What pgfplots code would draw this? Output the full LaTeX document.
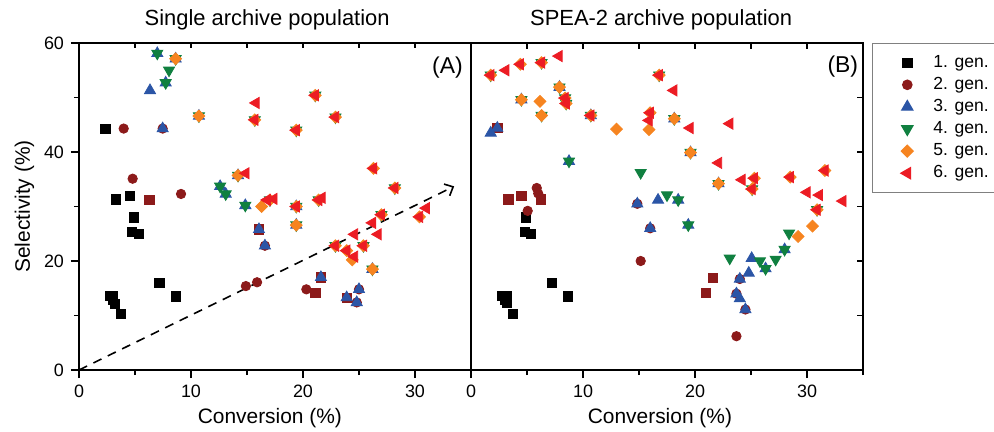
\documentclass[border=0pt]{standalone}
\usepackage{fontspec}
\setmainfont{Liberation Sans}
\usepackage{pgfplots}
\pgfplotsset{compat=1.18}
\usetikzlibrary{arrows.meta}

\definecolor{gdarkred}{RGB}{140,26,26}
\definecolor{gblue}{RGB}{43,85,166}
\definecolor{ggreen}{RGB}{16,128,64}
\definecolor{gorange}{RGB}{246,132,32}
\definecolor{gred}{RGB}{236,28,36}

\newcommand\ftick{\fontsize{9}{10}\selectfont}
\newcommand\flab{\fontsize{10.5}{12}\selectfont}

\pgfplotsset{
  panel/.style={
    scale only axis, width=196bp, height=163.5bp,
    xmin=0, xmax=35, ymin=0, ymax=60,
    axis line style={line width=0.9bp},
    every tick/.style={line width=0.8bp, black},
    tick label style={font=\ftick},
    /pgf/number format/assume math mode=true,
    clip=false,
  },
  limg/.style={legend image code/.code={\path[draw=none,fill=none] (0bp,0bp) (20bp,0bp); \draw[##1] plot coordinates {(14.35bp,0bp)};}},
  g1/.style={only marks, mark=square*, mark size=2.3bp, color=black, limg},
  g1b/.style={only marks, mark=square*, mark size=2.3bp, color=gdarkred, forget plot},
  g2/.style={only marks, mark=*, mark size=2.35bp, color=gdarkred, limg},
  g3/.style={only marks, mark=triangle*, mark size=3.2bp, color=gblue, limg},
  g4/.style={only marks, mark=triangle*, mark size=3.2bp, mark options={rotate=180}, color=ggreen, limg},
  g5/.style={only marks, mark=square*, mark size=2.1bp, mark options={rotate=45}, color=gorange, limg},
  g6/.style={only marks, mark=triangle*, mark size=3.2bp, mark options={rotate=90}, color=gred, limg},
}

\begin{document}
\begin{tikzpicture}
\path[use as bounding box] (-39.5bp,-31bp) rectangle (457.5bp,185bp);

% ---------- (A) single archive population
\begin{axis}[panel, at={(0,0)}, anchor=south west,
  xtick={0,10,20,30}, minor xtick={5,15,25},
  ytick={0,20,40,60}, minor ytick={10,30,50},
  xtick pos=bottom, ytick pos=left, tick align=outside,
  major tick length=4bp, minor tick length=2.5bp]
\addplot[g1] coordinates {(2.35,44.3)(3.3,31.3)(4.55,32.0)(4.91,28.0)(4.7,25.4)(5.36,25.0)
  (7.17,16.0)(8.66,13.5)(2.77,13.6)(3.06,13.6)(3.0,12.8)(3.2,12.2)(3.72,10.35)};
\addplot[g1b] coordinates {(6.28,31.2)(21.1,14.2)(16.07,25.8)(21.6,17.0)(23.9,13.3)};
\addplot[g2] coordinates {(3.99,44.3)(7.47,44.3)(4.79,35.1)(9.11,32.3)(14.9,15.4)(15.9,16.1)
  (20.3,14.8)(16.6,22.8)(25.0,14.8)(24.8,12.4)};
\addplot[g3] coordinates {(6.99,58.1)(8.63,57.1)(7.74,52.7)(6.34,51.3)(10.71,46.6)(7.47,44.3)
  (12.6,33.7)(13.1,32.3)(14.2,35.7)(14.85,30.2)(16.07,25.8)(16.6,22.8)(19.4,26.6)(21.6,17.0)
  (23.9,13.3)(25.0,14.8)(24.8,12.4)(26.2,18.5)(19.4,30.0)};
\addplot[g4] coordinates {(6.99,58.1)(8.63,57.1)(8.04,55.0)(7.74,52.7)(10.71,46.6)(12.6,33.7)
  (13.1,32.3)(14.2,35.7)(14.85,30.2)(19.4,26.6)(26.2,18.5)(15.7,45.9)(21.1,50.4)(22.9,46.4)
  (19.4,44.0)(28.2,33.4)(17.05,31.2)(19.4,30.0)(21.4,31.2)(27.0,28.5)(22.9,22.8)(25.4,22.8)};
\addplot[g5] coordinates {(8.63,57.1)(10.71,46.6)(14.2,35.7)(16.3,30.0)(19.4,26.6)(26.2,18.5)
  (24.4,20.2)(15.7,45.9)(21.1,50.4)(22.9,46.4)(19.4,44.0)(26.3,37.0)(28.2,33.4)(17.05,31.2)
  (19.4,30.0)(21.4,31.2)(27.0,28.5)(30.4,28.1)(22.9,22.8)(23.9,21.9)(25.4,22.8)};
\addplot[g6] coordinates {(15.8,49.0)(15.7,45.9)(21.1,50.4)(22.9,46.4)(19.4,44.0)(26.3,37.0)
  (28.2,33.4)(14.9,36.1)(16.8,31.2)(17.4,31.4)(19.4,30.0)(21.4,31.2)(21.7,31.6)(31.0,29.7)
  (30.4,28.1)(27.0,28.5)(26.2,27.0)(22.9,22.8)(23.9,21.9)(24.6,20.8)(24.6,24.9)(25.4,22.8)(26.7,24.9)};
\draw[black, line width=0.8bp, dash pattern=on 4.5bp off 3.5bp,
  -{Straight Barb[length=3.5bp,width=6.5bp]}] (axis cs:0,0) -- (axis cs:33.5,33.7);
\node[font=\fontsize{11.5}{13}\selectfont] at (axis cs:32.9,55.5) {(A)};
\node[anchor=base, font=\fontsize{11}{13}\selectfont] at (rel axis cs:0.48,1) [yshift=9bp] {Single archive population};
\node[anchor=base, font=\flab] at (rel axis cs:0.487,0) [yshift=-26.5bp] {Conversion (\%)};
\node[anchor=base, font=\flab, xshift=-24.5bp, rotate=90] at (rel axis cs:0,0.5) {Selectivity (\%)};
\end{axis}
\begin{axis}[panel, at={(0,0)}, anchor=south west,
  xtick={5,10,...,30}, ytick=\empty, xticklabels={},
  xtick pos=top, tick align=inside, major tick length=2.5bp]
\end{axis}

% ---------- (B) SPEA-2 archive population
\begin{axis}[panel, at={(196bp,0)}, anchor=south west,
  xtick={0,10,20,30}, minor xtick={5,15,25,35}, ytick=\empty,
  xtick pos=bottom, tick align=outside,
  major tick length=4bp, minor tick length=2.5bp,
  legend style={at={(1.023,1)}, anchor=north west, draw=gray, line width=0.6bp,
    fill=white, inner xsep=3bp, inner ysep=5.5bp,
    font=\fontsize{8.8}{10}\selectfont, row sep=2.95bp,
    nodes={inner sep=0pt, text height=6.3bp, text depth=1.8bp},
    /tikz/every odd column/.append style={column sep=7.4bp}}]
\addplot[g1] coordinates {(4.88,28.0)(4.82,25.4)(5.36,25.0)(7.2,16.0)(8.63,13.5)(2.74,13.6)
  (3.19,13.6)(3.0,12.8)(3.19,12.4)(3.72,10.35)};
\addplot[g1b] coordinates {(3.33,31.3)(4.5,32.0)(6.25,31.3)(21.6,16.9)(21.0,14.2)(2.35,44.4)};
\addplot[g2] coordinates {(5.87,33.4)(6.0,32.4)(5.06,29.2)(15.15,20.0)(23.7,6.2)(14.85,30.5)
  (16.0,26.0)(24.0,16.7)(23.7,14.0)(24.5,11.1)};
\addplot[g3] coordinates {(1.76,43.5)(2.35,44.4)(8.75,38.3)(14.85,30.5)(16.7,31.2)(18.5,31.2)
  (16.0,26.0)(19.4,26.6)(25.06,20.5)(24.8,17.8)(24.0,16.7)(23.7,14.0)(24.0,13.1)(24.5,11.1)
  (28.0,22.1)(26.3,18.6)(4.5,49.6)(7.9,51.9)(10.7,46.7)(18.15,46.1)(19.6,39.9)(22.1,34.2)};
\addplot[g4] coordinates {(8.75,38.3)(15.15,36.2)(17.5,32.1)(18.5,31.2)(19.4,26.6)(28.4,25.1)
  (28.0,22.1)(27.2,20.3)(25.8,20.0)(26.3,18.6)(23.1,20.5)(4.5,49.6)(6.3,46.7)(7.9,51.9)
  (10.7,46.7)(18.15,46.1)(19.6,39.9)(22.1,34.2)(1.76,54.1)(6.3,56.4)(8.4,49.9)(8.5,48.9)
  (16.8,54.1)(25.1,33.2)(30.9,29.4)};
\addplot[g5] coordinates {(4.5,49.6)(6.16,49.3)(6.3,46.7)(7.9,51.9)(10.7,46.7)(13.0,44.2)
  (15.9,44.1)(18.15,46.1)(19.6,39.9)(22.1,34.2)(30.5,26.4)(29.2,24.5)(1.76,54.1)(4.4,56.1)
  (6.3,56.4)(8.4,49.9)(8.5,48.9)(16.8,54.1)(16.0,47.2)(25.3,35.2)(25.1,33.2)(28.5,35.4)
  (31.6,36.6)(30.9,29.4)};
\addplot[g6] coordinates {(1.76,54.1)(3.1,55.0)(4.4,56.1)(6.3,56.4)(7.86,57.6)(16.8,54.1)
  (18.1,51.3)(8.4,49.9)(8.5,48.9)(10.7,46.7)(16.0,47.2)(15.9,45.8)(19.55,44.4)(22.1,38.0)
  (23.1,45.2)(24.2,34.9)(25.3,35.2)(25.1,33.2)(28.5,35.4)(31.6,36.6)(30.0,32.6)(31.1,32.1)
  (33.2,31.0)(30.9,29.4)};
\legend{1. gen., 2. gen., 3. gen., 4. gen., 5. gen., 6. gen.}
\node[font=\fontsize{11.5}{13}\selectfont] at (axis cs:33.2,55.7) {(B)};
\node[anchor=base, font=\fontsize{11}{13}\selectfont] at (rel axis cs:0.485,1) [yshift=9bp] {SPEA-2 archive population};
\node[anchor=base, font=\flab] at (rel axis cs:0.482,0) [yshift=-26.5bp] {Conversion (\%)};
\end{axis}
\begin{axis}[panel, at={(196bp,0)}, anchor=south west,
  xtick={5,10,...,30}, ytick={10,20,...,50}, xticklabels={}, yticklabels={},
  xtick pos=top, ytick pos=right, tick align=inside, major tick length=3bp]
\end{axis}
\end{tikzpicture}
\end{document}
